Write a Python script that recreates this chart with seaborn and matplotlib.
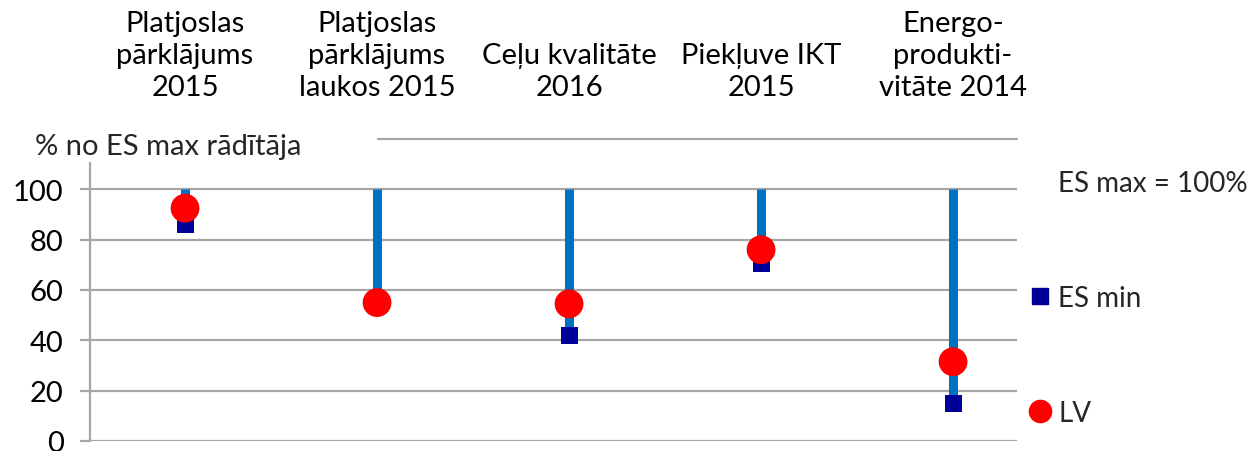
import matplotlib
matplotlib.use("Agg")
import matplotlib.pyplot as plt
from matplotlib.lines import Line2D
import seaborn as sns
import pandas as pd

categories = ["Platjoslas\npārklājums\n2015", "Platjoslas\npārklājums\nlaukos 2015",
              "Ceļu kvalitāte\n2016", "Piekļuve IKT\n2015", "Energo-\nprodukti-\nvitāte 2014"]
es_max = [100, 100, 100, 100, 100]
es_min = [86, 55, 42, 70.5, 15]
lv = [92.5, 55, 54.5, 76, 31.5]
y_ticks = [0, 20, 40, 60, 80, 100]

sns.set_theme(style="white")
plt.rcParams['font.family'] = ['Lato', 'DejaVu Sans']

FS = 21
fig = plt.figure(figsize=(12.53, 4.52), dpi=100)
ax = fig.add_axes([90/1253, 10/452, (1017-90)/1253, (442-140)/452])

x = list(range(len(categories)))
df = pd.DataFrame({"x": x, "es_min": es_min, "lv": lv, "es_max": es_max})

ax.vlines(df["x"], df["es_min"], df["es_max"], color="#0070C0", lw=6.5, zorder=2)
sns.scatterplot(data=df, x="x", y="es_min", marker="s", s=150, color="#000099",
                edgecolor="none", ax=ax, zorder=3)
sns.scatterplot(data=df, x="x", y="lv", marker="o", s=430, color="#FF0000",
                edgecolor="none", ax=ax, zorder=4)

ax.set_xlim(-0.495, 4.333)
ax.set_ylim(0, 120)
ax.set_yticks(y_ticks)
ax.set_yticklabels([str(v) for v in y_ticks], fontsize=FS, color="black")
ax.set_xlabel("")
ax.set_ylabel("")
for v in y_ticks:
    ax.axhline(v, color="#A6A6A6", lw=1.6, zorder=1)
ax.axhline(120, xmin=(378-90)/927, xmax=1, color="#A6A6A6", lw=1.6, zorder=1, clip_on=False)

ax.tick_params(axis="y", length=7, width=1.6, color="#A6A6A6", pad=12, left=True)
ax.xaxis.tick_top()
ax.set_xticks(x)
ax.set_xticklabels(categories, fontsize=FS, color="black", linespacing=1.3)
ax.tick_params(axis="x", length=0, pad=28)

for s in ["top", "right", "bottom"]:
    ax.spines[s].set_visible(False)
ax.spines["left"].set_color("#A6A6A6")
ax.spines["left"].set_linewidth(1.6)
ax.spines["left"].set_bounds(0, 110.5)

fig.text(35/1253, 1 - 147/452, "% no ES max rādītāja", fontsize=FS, va="center", ha="left")

handles = [
    Line2D([], [], linestyle="none", marker=None),
    Line2D([], [], linestyle="none", marker="s", markersize=11, color="#000099"),
    Line2D([], [], linestyle="none", marker="o", markersize=16, color="#FF0000"),
]
labels = ["ES max = 100%", "ES min", "LV"]
fig.legend(handles, labels, loc="upper left", bbox_to_anchor=(1029/1253, 1 - 171/452),
           frameon=False, fontsize=20, labelspacing=3.2, handlelength=0.8,
           handletextpad=0.25, borderpad=0, borderaxespad=0)

fig.savefig("out.png", dpi=100)
